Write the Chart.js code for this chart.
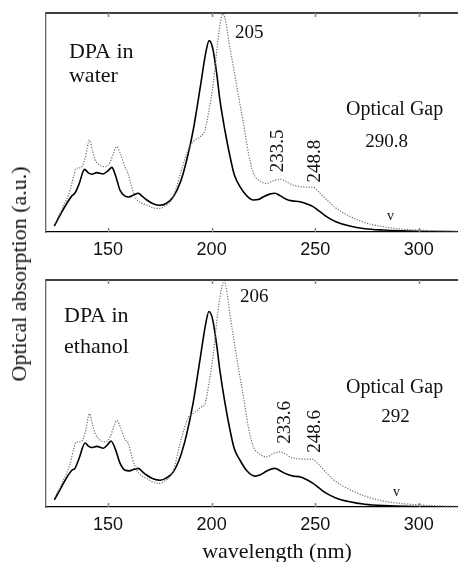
<!DOCTYPE html>
<html>
<head>
<meta charset="utf-8">
<script src="https://cdn.jsdelivr.net/npm/chart.js@4.4.0/dist/chart.umd.min.js"></script>
<style>
  body { margin: 0; background: #fff; }
  #wrap { position: relative; width: 458px; height: 562px; overflow: hidden; background: #fff; }
  canvas { position: absolute; left: 0; }
  #cTop { top: 0; }
  #cBot { top: 270px; }
  .lbl { position: absolute; font-family: "Liberation Serif", serif; font-size: 22px; line-height: 22px; color: #111; white-space: nowrap; }
  #xlab { left: 277px; top: 551px; transform: translate(-50%, -50%); }
  #ylab { left: 19px; top: 274px; transform: translate(-50%, -50%) rotate(-90deg); }
</style>
</head>
<body>
<div id="wrap">
  <canvas id="cTop" width="458" height="270"></canvas>
  <canvas id="cBot" width="458" height="270"></canvas>
  <div class="lbl" id="xlab">wavelength (nm)</div>
  <div class="lbl" id="ylab">Optical absorption (a.u.)</div>
</div>
<script>
// x ticks (nm)
var xTicks = [150, 200, 250, 300];

// DPA in water - solid line
var waterSolidX = [124,127,130,132.5,134,136,138.6,140.5,142,144.5,147.5,150,151.8,153.5,155.8,158,160,162.5,164.6,166.5,168.7,172,175,178,181.5,185,188,191,194.8,197,198.8,200.5,202.5,204,206.5,208.9,211,213.7,217,220.1,222.5,225,228,230.6,233,236,239,242.6,246,249,252,255.5,260,266.7,274,282.8,300,319];
var waterSolidY = [0.027,0.08,0.13,0.165,0.178,0.22,0.286,0.27,0.264,0.271,0.265,0.28,0.295,0.26,0.19,0.165,0.16,0.17,0.177,0.163,0.146,0.128,0.122,0.13,0.161,0.23,0.33,0.46,0.679,0.81,0.874,0.84,0.72,0.603,0.46,0.344,0.26,0.207,0.165,0.146,0.148,0.161,0.173,0.177,0.166,0.15,0.142,0.138,0.128,0.116,0.095,0.07,0.047,0.027,0.015,0.009,0.003,0.001];

// DPA in water - dotted line
var waterDotX = [124.4,128,131.6,133.5,134.5,137,139,141,142.5,143.7,146,148.5,151,153,154.2,156,158,159.5,161,163,165.5,168.7,172,174.3,177,181.5,185,188,190,192,194.5,196.8,198.8,200.8,203,204.5,205.6,207,208.5,210.5,213,215.4,218,220.2,223,226.6,230,233.1,236,239,241.2,245,249.2,252,255.7,260,267,275,283.2,291,299.3,310,319];
var waterDotY = [0.04,0.11,0.19,0.26,0.29,0.295,0.34,0.42,0.37,0.33,0.305,0.298,0.32,0.37,0.39,0.355,0.3,0.27,0.22,0.161,0.135,0.123,0.11,0.108,0.115,0.161,0.27,0.359,0.4,0.42,0.435,0.466,0.56,0.679,0.87,0.97,0.997,0.95,0.86,0.755,0.62,0.496,0.35,0.268,0.235,0.222,0.235,0.241,0.23,0.215,0.21,0.205,0.204,0.18,0.146,0.11,0.07,0.04,0.024,0.014,0.009,0.005,0.003];

// DPA in ethanol - solid line
var ethSolidX = [124,127,130,132.5,134,136,138.9,140.5,142.1,144.5,147.7,150,151.4,153.5,155.8,158,160.3,162.5,164.6,166.5,168.7,172,175.1,178,181.5,185,188,191,194.8,197,198.7,200.4,202.5,204,206.5,208.9,211,213.7,217,221,223.5,226,228.5,230.6,233,236.2,239.5,242.6,246,249,252,255.5,260,266.7,274,282.8,300,319];
var ethSolidY = [0.031,0.08,0.13,0.162,0.17,0.215,0.282,0.268,0.262,0.267,0.259,0.277,0.291,0.255,0.192,0.163,0.159,0.166,0.17,0.156,0.14,0.123,0.118,0.127,0.155,0.225,0.323,0.455,0.674,0.8,0.861,0.83,0.71,0.601,0.455,0.338,0.255,0.206,0.16,0.136,0.142,0.155,0.166,0.17,0.16,0.145,0.136,0.133,0.12,0.104,0.083,0.06,0.04,0.023,0.012,0.006,0.002,0.001];

// DPA in ethanol - dotted line
var ethDotX = [124.4,128,131.6,133.5,134.5,137,139,141,142.5,143.7,146,148.7,151,153,154.2,156,158,159.8,161.5,163.8,166,168.7,172,174.3,177,181.5,185,188.9,190.8,192.9,195,196.8,198.8,200.8,203,205,206.1,207.5,209,210.5,213,215.4,218,220.2,223,226.6,230,233.1,236,238.5,241.2,245,248.4,252,255.7,260,267,275,283.2,291,299.3,310,319];
var ethDotY = [0.045,0.11,0.19,0.26,0.286,0.288,0.33,0.411,0.36,0.325,0.295,0.286,0.31,0.36,0.382,0.35,0.3,0.279,0.22,0.162,0.138,0.126,0.108,0.104,0.112,0.16,0.29,0.396,0.41,0.425,0.44,0.455,0.55,0.674,0.86,0.97,0.996,0.94,0.84,0.75,0.61,0.484,0.34,0.265,0.234,0.221,0.237,0.243,0.232,0.218,0.213,0.211,0.211,0.185,0.148,0.112,0.075,0.045,0.026,0.016,0.01,0.005,0.003];

function pairs(xs, ys) {
  return xs.map(function (x, i) { return { x: x, y: ys[i] }; });
}

// frame, inward ticks and text labels
var decor = {
  id: 'decor',
  afterDatasetsDraw: function (chart, args, opts) {
    var c = chart.ctx, a = chart.chartArea;
    var xs = chart.scales.x, ys = chart.scales.y;
    c.save();
    c.strokeStyle = '#000';
    c.lineWidth = 1.3;
    c.beginPath();
    c.moveTo(a.left, a.top); c.lineTo(a.right, a.top);
    c.stroke();
    c.strokeStyle = '#888';
    c.lineWidth = 1.5;
    xTicks.forEach(function (t) {
      var px = Math.round(xs.getPixelForValue(t)) + 0.5;
      c.beginPath();
      c.moveTo(px, a.top); c.lineTo(px, a.top + 4);
      c.moveTo(px, a.bottom); c.lineTo(px, a.bottom - 4);
      c.stroke();
    });
    c.fillStyle = '#111';
    c.textBaseline = 'middle';
    opts.texts.forEach(function (t) {
      c.save();
      c.font = t.size + 'px "Liberation Serif"';
      c.textAlign = t.align || 'center';
      c.translate(xs.getPixelForValue(t.x), ys.getPixelForValue(t.y));
      if (t.rot) c.rotate(-Math.PI / 2);
      c.fillText(t.text, 0, 0);
      c.restore();
    });
    c.restore();
  }
};

function makeChart(id, solidX, solidY, dotX, dotY, padTop, axisH, texts) {
  return new Chart(document.getElementById(id), {
    type: 'line',
    data: {
      datasets: [
        { data: pairs(dotX, dotY), borderColor: '#6e6e6e', borderWidth: 1.2, borderDash: [1.2, 1.5], pointRadius: 0, cubicInterpolationMode: 'monotone' },
        { data: pairs(solidX, solidY), borderColor: '#000', borderWidth: 1.6, pointRadius: 0, cubicInterpolationMode: 'monotone' }
      ]
    },
    options: {
      responsive: false,
      animation: false,
      events: [],
      layout: { padding: { left: 46, top: padTop, right: 0, bottom: 0 } },
      plugins: { legend: { display: false }, tooltip: { enabled: false }, decor: { texts: texts } },
      scales: {
        x: {
          type: 'linear', min: 120, max: 319,
          afterBuildTicks: function (s) { s.ticks = xTicks.map(function (v) { return { value: v }; }); },
          afterFit: function (s) { s.height = axisH; },
          grid: { display: false, drawTicks: false },
          border: { display: true, color: '#000', width: 1.3 },
          ticks: { padding: 7, color: '#111', maxRotation: 0, font: { family: '"Liberation Sans", Arial, sans-serif', size: 18 } }
        },
        y: {
          type: 'linear', min: 0, max: 1,
          afterFit: function (s) { s.width = 0; },
          grid: { display: false, drawTicks: false },
          border: { display: true, color: '#666', width: 1.3 },
          ticks: { display: false }
        }
      }
    },
    plugins: [decor]
  });
}

function drawAll() {
  makeChart('cTop', waterSolidX, waterSolidY, waterDotX, waterDotY, 13, 38, [
    { text: 'DPA in', x: 131.1, y: 0.822, size: 22, align: 'left' },
    { text: 'water', x: 131.1, y: 0.712, size: 22, align: 'left' },
    { text: '205', x: 218.2, y: 0.909, size: 19 },
    { text: '233.5', x: 232.2, y: 0.37, size: 19, rot: true },
    { text: '248.8', x: 250.1, y: 0.324, size: 19, rot: true },
    { text: 'Optical Gap', x: 288.4, y: 0.557, size: 20 },
    { text: '290.8', x: 284.5, y: 0.411, size: 19 },
    { text: 'v', x: 286.4, y: 0.072, size: 14 }
  ]);

  makeChart('cBot', ethSolidX, ethSolidY, ethDotX, ethDotY, 10, 33, [
    { text: 'DPA in', x: 128.7, y: 0.842, size: 22, align: 'left' },
    { text: 'ethanol', x: 128.7, y: 0.706, size: 22, align: 'left' },
    { text: '206', x: 220.6, y: 0.925, size: 19 },
    { text: '233.6', x: 235.6, y: 0.373, size: 19, rot: true },
    { text: '248.6', x: 250.1, y: 0.333, size: 19, rot: true },
    { text: 'Optical Gap', x: 288.4, y: 0.526, size: 20 },
    { text: '292', x: 288.8, y: 0.395, size: 19 },
    { text: 'v', x: 289.3, y: 0.065, size: 14 }
  ]);
}

Promise.all([
  document.fonts.load('22px "Liberation Serif"'),
  document.fonts.load('18px "Liberation Sans"')
]).then(drawAll, drawAll);
</script>
</body>
</html>
